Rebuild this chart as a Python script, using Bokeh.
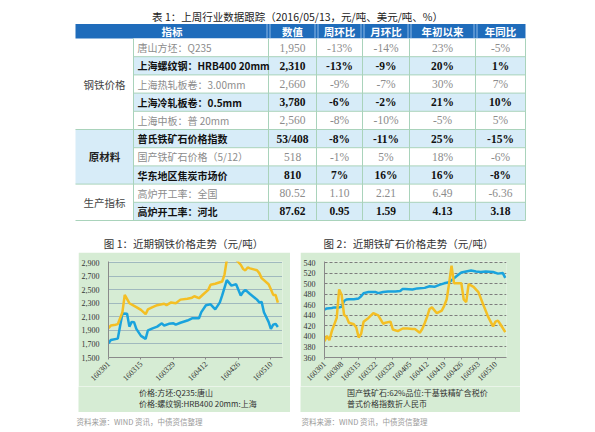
import pandas as pd
from bokeh.plotting import figure
from bokeh.models import (Range1d, FixedTicker, NumeralTickFormatter,
                          DatetimeTickFormatter, Legend, LegendItem, Spacer)
from bokeh.layouts import column, row
from bokeh.core.properties import value
from bokeh.embed import file_html
from bokeh.resources import INLINE

# ---------------- data ----------------
table_title = "表 1：上周行业数据跟踪（2016/05/13，元/吨、美元/吨、%）"
headers = ["指标", "数值", "周环比", "月环比", "年初以来", "年同比"]
groups = ["钢铁价格", "原材料", "生产指标"]
group_sizes = [5, 3, 2]
items = ["唐山方坯：Q235", "上海螺纹钢：HRB400 20mm", "上海热轧板卷：3.00mm",
         "上海冷轧板卷：0.5mm", "上海中板：普 20mm", "普氏铁矿石价格指数",
         "国产铁矿石价格（5/12）", "华东地区焦炭市场价", "高炉开工率：全国", "高炉开工率：河北"]
latest = ["1,950", "2,310", "2,660", "3,780", "2,560", "53/408", "518", "810", "80.52", "87.62"]
wow = ["-13%", "-13%", "-9%", "-6%", "-8%", "-8%", "-1%", "7%", "1.10", "0.95"]
mom = ["-14%", "-9%", "-7%", "-2%", "-10%", "-11%", "5%", "16%", "2.21", "1.59"]
ytd = ["23%", "20%", "30%", "21%", "-5%", "25%", "18%", "16%", "6.49", "4.13"]
yoy = ["-5%", "1%", "7%", "10%", "5%", "-15%", "-6%", "-8%", "-6.36", "3.18"]

chart1_title = "图 1：近期钢铁价格走势（元/吨）"
steel_names = ["价格:方坯:Q235:唐山", "价格:螺纹钢:HRB400 20mm:上海"]
billet_dates = ["2016-03-01", "2016-03-02", "2016-03-05", "2016-03-06", "2016-03-07", "2016-03-09",
                "2016-03-10", "2016-03-11", "2016-03-12", "2016-03-13", "2016-03-15", "2016-03-17",
                "2016-03-18", "2016-03-20", "2016-03-22", "2016-03-24", "2016-03-25", "2016-03-27",
                "2016-03-29", "2016-03-30", "2016-04-01", "2016-04-04", "2016-04-06", "2016-04-09",
                "2016-04-10", "2016-04-12", "2016-04-14", "2016-04-16", "2016-04-18", "2016-04-19",
                "2016-04-21", "2016-04-23", "2016-04-24", "2016-04-25", "2016-04-27", "2016-04-28",
                "2016-04-29", "2016-05-01", "2016-05-04", "2016-05-05", "2016-05-06", "2016-05-07",
                "2016-05-09", "2016-05-10", "2016-05-11", "2016-05-12", "2016-05-13"]
billet_price = [1708, 1758, 1778, 1963, 2148, 2144,
                1955, 2025, 2021, 1922, 1819, 1774,
                1901, 1930, 1955, 2004, 1971, 1996,
                2004, 1984, 2012, 2045, 2078, 2078,
                2168, 2271, 2284, 2210, 2312, 2415,
                2641, 2559, 2571, 2580, 2415, 2465,
                2497, 2436, 2353, 2312, 2320, 2168,
                2025, 1922, 1984, 1996, 1950]
rebar_dates = ["2016-03-01", "2016-03-02", "2016-03-04", "2016-03-05", "2016-03-07", "2016-03-08",
               "2016-03-10", "2016-03-13", "2016-03-15", "2016-03-17", "2016-03-18", "2016-03-20",
               "2016-03-22", "2016-03-25", "2016-03-26", "2016-03-28", "2016-03-30", "2016-04-01",
               "2016-04-04", "2016-04-06", "2016-04-07", "2016-04-09", "2016-04-11", "2016-04-13",
               "2016-04-14", "2016-04-16", "2016-04-19", "2016-04-20", "2016-04-21", "2016-04-23",
               "2016-04-25", "2016-04-27", "2016-04-28", "2016-04-29", "2016-04-30", "2016-05-01",
               "2016-05-04", "2016-05-05", "2016-05-06", "2016-05-09", "2016-05-10", "2016-05-11",
               "2016-05-12", "2016-05-13"]
rebar_price = [1934, 1971, 1984, 1992, 2168, 2423,
               2300, 2242, 2201, 2140, 2210, 2242,
               2271, 2292, 2271, 2312, 2300, 2353,
               2366, 2382, 2403, 2374, 2436, 2497,
               2571, 2587, 2620, 2723, 2941, 2958,
               2941, 2867, 2805, 2785, 2826, 2814,
               2785, 2744, 2670, 2580, 2505, 2423,
               2423, 2310]
steel_xticks = ["2016-03-01", "2016-03-15", "2016-03-29", "2016-04-12", "2016-04-26", "2016-05-10"]
steel_yticks = [1500, 1700, 1900, 2100, 2300, 2500, 2700, 2900]

chart2_title = "图 2：近期铁矿石价格走势（元/吨）"
ore_names = ["国产铁矿石:62%品位:干基铁精矿含税价", "普式价格指数折人民币"]
ore_dates = ["2016-03-01", "2016-03-02", "2016-03-04", "2016-03-05", "2016-03-07", "2016-03-08",
             "2016-03-09", "2016-03-10", "2016-03-11", "2016-03-13", "2016-03-15", "2016-03-16",
             "2016-03-17", "2016-03-19", "2016-03-21", "2016-03-22", "2016-03-23", "2016-03-25",
             "2016-03-27", "2016-03-30", "2016-04-01", "2016-04-02", "2016-04-03", "2016-04-06",
             "2016-04-08", "2016-04-11", "2016-04-13", "2016-04-15", "2016-04-17", "2016-04-19",
             "2016-04-21", "2016-04-22", "2016-04-24", "2016-04-26", "2016-04-28", "2016-04-30",
             "2016-05-02", "2016-05-04", "2016-05-06", "2016-05-09", "2016-05-11", "2016-05-13",
             "2016-05-14"]
ore_price = [451, 453, 454, 455, 455, 456,
             467, 470, 470.5, 470.5, 472, 476,
             482, 484, 484, 484, 482, 484,
             485, 485, 486, 490, 490, 489,
             491, 492, 495, 494, 497.6, 500.6,
             502.6, 506.5, 514, 521, 523, 525,
             523, 522, 523, 522, 519, 520,
             511]
platts_dates = ["2016-03-01", "2016-03-02", "2016-03-03", "2016-03-04", "2016-03-06", "2016-03-07",
                "2016-03-08", "2016-03-09", "2016-03-10", "2016-03-11", "2016-03-13", "2016-03-14",
                "2016-03-15", "2016-03-16", "2016-03-17", "2016-03-19", "2016-03-21", "2016-03-23",
                "2016-03-25", "2016-03-26", "2016-03-28", "2016-03-29", "2016-03-31", "2016-04-02",
                "2016-04-04", "2016-04-06", "2016-04-07", "2016-04-09", "2016-04-10", "2016-04-11",
                "2016-04-12", "2016-04-13", "2016-04-14", "2016-04-16", "2016-04-18", "2016-04-19",
                "2016-04-20", "2016-04-21", "2016-04-22", "2016-04-23", "2016-04-24", "2016-04-26",
                "2016-04-27", "2016-04-28", "2016-04-29", "2016-05-01", "2016-05-03", "2016-05-05",
                "2016-05-07", "2016-05-09", "2016-05-10", "2016-05-11", "2016-05-12", "2016-05-14"]
platts_price = [391, 401, 393, 410, 435, 489,
                479, 441, 437, 426, 423, 417,
                398, 405, 428, 435, 444, 440,
                424, 426, 428, 413, 410, 415,
                415, 414, 414, 407, 414, 425,
                437, 452, 455, 444, 449, 458,
                470, 500, 534, 501, 501, 501,
                470, 465, 499, 494, 484, 460,
                437, 419, 428, 430, 423, 408]
ore_xticks = ["2016-03-01", "2016-03-08", "2016-03-15", "2016-03-22", "2016-03-29", "2016-04-05",
              "2016-04-12", "2016-04-19", "2016-04-26", "2016-05-03", "2016-05-10"]
ore_yticks = [360, 380, 400, 420, 440, 460, 480, 500, 520, 540]

source_text = "资料来源：WIND 资讯，中债资信整理"

# ---------------- styles ----------------
CJK = "Noto Sans CJK SC"
SERIF = "Liberation Serif"
GREEN = "#d6ecd4"
BLUE_LINE = "#1aa3dd"
YELLOW_LINE = "#f4bf24"
HEAD_BLUE = "#1f6cbb"
ROW_BLUE = "#d7ecf8"
RULE = "#a9d3bb"
W = 595


def ms(d):
    return pd.Timestamp(d).value // 10**6


def blank(width, height, x0, x1, y0, y1):
    f = figure(width=width, height=height, x_range=Range1d(x0, x1), y_range=Range1d(y0, y1),
               output_backend="svg", toolbar_location=None, min_border=0,
               x_axis_location=None, y_axis_location=None)
    f.grid.visible = False
    f.outline_line_color = None
    return f


# ---------------- table figure (page pixel coords, y downwards) ----------------
T = blank(W, 252, 0, W, 252, 0)
T.background_fill_color = "white"
T.border_fill_color = "white"

XB = [75, 133, 268, 316, 362, 409, 475, 525]
HEAD_TOP, HEAD_BOT = 23.5, 38
RH = 18.2

T.text(x=[297], y=[16], text=[table_title], text_font=value(CJK), text_font_size="10.5px",
       text_color="#222222", text_align="center", text_baseline="middle")

T.quad(left=[XB[0]], right=[XB[-1]], top=[HEAD_TOP], bottom=[HEAD_BOT], fill_color=HEAD_BLUE, line_color=None)
for xb in XB[2:-1]:
    T.segment(x0=[xb - 1.5, xb + 1.5], y0=[HEAD_TOP, HEAD_TOP], x1=[xb - 1.5, xb + 1.5], y1=[HEAD_BOT, HEAD_BOT],
              line_color="#8db8e6", line_width=1)
head_x = [(XB[0] + XB[2]) / 2] + [(XB[k] + XB[k + 1]) / 2 for k in range(2, 7)]
T.text(x=head_x, y=[(HEAD_TOP + HEAD_BOT) / 2] * 6, text=headers, text_font=value(CJK),
       text_font_size="10.5px", text_font_style="bold", text_color="white",
       text_align="center", text_baseline="middle")

for i in range(len(items)):
    top = HEAD_BOT + RH * i
    fill = ROW_BLUE if i % 2 == 1 else "#ffffff"
    T.quad(left=[XB[1]], right=[XB[-1]], top=[top], bottom=[top + RH], fill_color=fill, line_color=None)

start = 0
gstarts = []
for g, n in zip(groups, group_sizes):
    gstarts.append(start)
    top = HEAD_BOT + RH * start
    if g == "原材料":
        T.quad(left=[XB[0]], right=[XB[1]], top=[top], bottom=[top + RH * n], fill_color=ROW_BLUE, line_color=None)
    start += n

for i in range(1, len(items) + 1):
    y = HEAD_BOT + RH * i
    left = XB[0] if i in gstarts or i == len(items) else XB[1]
    T.segment(x0=[left], y0=[y], x1=[XB[-1]], y1=[y], line_color=RULE, line_width=1)
for xb in XB[1:]:
    T.segment(x0=[xb], y0=[HEAD_BOT], x1=[xb], y1=[HEAD_BOT + RH * len(items)], line_color=RULE, line_width=1)

start = 0
for g, n in zip(groups, group_sizes):
    yc = HEAD_BOT + RH * (start + n / 2)
    T.text(x=[(XB[0] + XB[1]) / 2], y=[yc], text=[g], text_font=value(CJK), text_font_size="10.5px",
           text_font_style="bold" if g == "原材料" else "normal",
           text_color="#222222" if g == "原材料" else "#444444",
           text_align="center", text_baseline="middle")
    start += n

for i in range(len(items)):
    yc = HEAD_BOT + RH * (i + 0.5)
    strong = (i % 2 == 1)
    col = "#111111" if strong else "#8c8c8c"
    sty = "bold" if strong else "normal"
    T.text(x=[XB[1] + 4], y=[yc], text=[items[i]], text_font=value(CJK), text_font_size="10px",
           text_font_style=sty, text_color=col, text_align="left", text_baseline="middle")
    vals = [latest[i], wow[i], mom[i], ytd[i], yoy[i]]
    T.text(x=head_x[1:], y=[yc] * 5, text=vals, text_font=value(SERIF), text_font_size="11.5px",
           text_font_style=sty, text_color=col, text_align="center", text_baseline="middle")

T.text(x=[183, 408], y=[243, 243], text=[chart1_title, chart2_title], text_font=value(CJK),
       text_font_size="10.5px", text_color="#333333", text_align="center", text_baseline="middle")

DFMT = dict(microseconds="%y%m%d", milliseconds="%y%m%d", seconds="%y%m%d", minsec="%y%m%d",
            minutes="%y%m%d", hourmin="%y%m%d", hours="%y%m%d", days="%y%m%d",
            months="%y%m%d", years="%y%m%d")

CH_H = 134
LEG_H = 26


def make_chart(width, left, right, x_end, y0, y1, yticks, xticks, series,
               grid_color, grid_dash, yfmt):
    p = figure(width=width, height=CH_H, x_axis_type="datetime",
               x_range=Range1d(pd.Timestamp("2016-03-01"), pd.Timestamp(x_end)),
               y_range=Range1d(y0, y1), output_backend="svg", toolbar_location=None,
               min_border_left=left, min_border_right=right, min_border_top=9,
               min_border_bottom=29)
    p.background_fill_color = GREEN
    p.border_fill_color = GREEN
    p.outline_line_color = None
    p.xgrid.visible = False
    p.ygrid.ticker = FixedTicker(ticks=yticks[1:])
    p.ygrid.grid_line_color = grid_color
    p.ygrid.grid_line_dash = grid_dash
    p.ygrid.grid_line_width = 1
    p.yaxis.ticker = FixedTicker(ticks=yticks)
    if yfmt:
        p.yaxis.formatter = NumeralTickFormatter(format=yfmt)
    p.xaxis.ticker = FixedTicker(ticks=[ms(d) for d in xticks])
    p.xaxis.formatter = DatetimeTickFormatter(**DFMT)
    p.xaxis.major_label_orientation = 0.785398
    for ax in (p.xaxis, p.yaxis):
        ax.axis_line_color = "#8a8a8a"
        ax.major_label_text_font = SERIF
        ax.major_label_text_font_size = "8px"
        ax.major_label_text_color = "#333333"
        ax.minor_tick_line_color = None
        ax.major_label_standoff = 3
    p.yaxis.major_tick_line_color = None
    p.xaxis.major_tick_line_color = "#8a8a8a"
    p.xaxis.major_tick_in = 0
    p.xaxis.major_tick_out = 2
    for (dates, vals, color) in series:
        p.line(x=pd.to_datetime(dates), y=vals, line_color=color, line_width=2.5)
    return p


def make_legend(width, names, x_off, glyph_w):
    f = blank(width, LEG_H, 0, 1, 0, 1)
    f.background_fill_color = GREEN
    f.border_fill_color = GREEN
    rends = [f.line(x=[], y=[], line_color=c, line_width=3) for c in (BLUE_LINE, YELLOW_LINE)]
    leg = Legend(items=[LegendItem(label=n, renderers=[r]) for n, r in zip(names, rends)],
                 location=(x_off, 3), orientation="vertical",
                 background_fill_alpha=0, border_line_color=None,
                 label_text_font=CJK, label_text_font_size="8px", label_text_color="#333333",
                 glyph_width=glyph_w, glyph_height=10, label_height=10, spacing=0,
                 padding=0, margin=0, label_standoff=2)
    f.add_layout(leg)
    return f


p1 = make_chart(212, 29, 8, "2016-05-15", 1500, 2915, steel_yticks, steel_xticks,
                [(billet_dates, billet_price, BLUE_LINE), (rebar_dates, rebar_price, YELLOW_LINE)],
                "#6a87a8", "1 1", "0,0")
p2 = make_chart(220, 23, 14, "2016-05-14 12:00", 360, 542, ore_yticks, ore_xticks,
                [(ore_dates, ore_price, BLUE_LINE), (platts_dates, platts_price, YELLOW_LINE)],
                "#7d7d7d", "3 2", None)
L1 = make_legend(212, steel_names, 39, 20)
L2 = make_legend(220, ore_names, 27, 18)

S = blank(W, 20, 0, W, 432, 412)
S.text(x=[76, 301], y=[421, 421], text=[source_text, source_text], text_font=value(CJK),
       text_font_size="7.5px", text_color="#9a9a9a", text_align="left", text_baseline="middle")

mid = row(Spacer(width=78, height=CH_H), p1, Spacer(width=10, height=CH_H), p2,
          Spacer(width=75, height=CH_H))
legs = row(Spacer(width=78, height=LEG_H), L1, Spacer(width=10, height=LEG_H), L2,
           Spacer(width=75, height=LEG_H))
layout = column(T, mid, legs, S)

open("out.html", "w").write(file_html(layout, INLINE))
